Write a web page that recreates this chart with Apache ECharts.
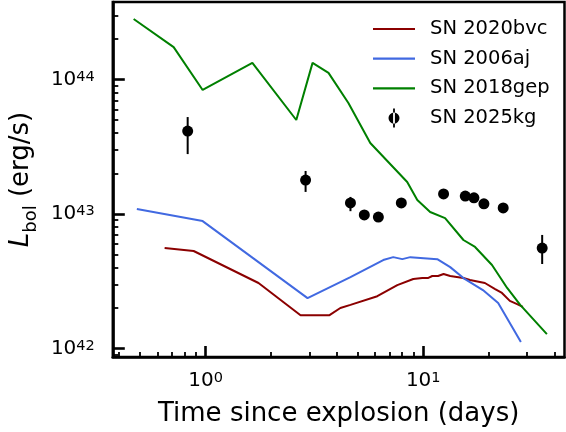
<!DOCTYPE html>
<html><head><meta charset="utf-8">
<script src="https://cdn.jsdelivr.net/npm/echarts@6/dist/echarts.min.js"></script>
<style>html,body{margin:0;padding:0;background:#fff}#c{width:566px;height:432px}</style>
</head><body><div id="c"></div><script>
// SN 2020bvc
const bvcT = [0.648, 0.881, 1.75, 2.73, 3.71, 4.16, 4.63, 6.15, 7.60, 9.0, 9.9, 10.5, 11.0, 11.7, 12.4, 13.3, 15.3, 16.4, 19.2, 21.4, 23.0, 25.0, 27.0, 28.7];
const bvcL = [5.59e42, 5.31e42, 3.07e42, 1.77e42, 1.77e42, 2.00e42, 2.11e42, 2.45e42, 2.96e42, 3.29e42, 3.34e42, 3.34e42, 3.46e42, 3.46e42, 3.58e42, 3.46e42, 3.34e42, 3.23e42, 3.07e42, 2.77e42, 2.59e42, 2.26e42, 2.14e42, 2.04e42];
// SN 2006aj
const ajT = [0.483, 0.969, 2.94, 4.63, 6.55, 7.28, 8.01, 8.72, 11.6, 13.3, 15.3, 18.8, 22.1, 28.1];
const ajL = [1.09e43, 8.86e42, 2.37e42, 3.40e42, 4.55e42, 4.78e42, 4.62e42, 4.78e42, 4.62e42, 4.03e42, 3.34e42, 2.72e42, 2.18e42, 1.12e42];
// SN 2018gep
const gepT = [0.467, 0.713, 0.969, 1.64, 2.61, 3.10, 3.67, 4.53, 5.71, 8.44, 9.39, 10.76, 12.6, 15.3, 17.3, 20.7, 24.3, 27.9, 37.0];
const gepL = [2.82e44, 1.74e44, 8.36e43, 1.33e44, 5.0e43, 1.33e44, 1.12e44, 6.69e43, 3.37e43, 1.73e43, 1.27e43, 1.035e43, 9.33e42, 6.41e42, 5.69e42, 4.18e42, 2.82e42, 2.11e42, 1.28e42];
// SN 2025kg
const kgT  = [0.827, 2.88, 4.63, 5.36, 6.22, 7.93, 12.4, 15.6, 17.1, 19.0, 23.3, 35.2];
const kgL  = [4.14e43, 1.79e43, 1.21e43, 9.84e42, 9.5e42, 1.21e43, 1.41e43, 1.36e43, 1.32e43, 1.19e43, 1.11e43, 5.58e42];
const kgLo = [2.79e43, 1.46e43, 1.05e43, 9.2e42, 8.9e42, 1.13e43, 1.33e43, 1.28e43, 1.24e43, 1.12e43, 1.04e43, 4.25e42];
const kgHi = [5.26e43, 2.09e43, 1.34e43, 1.05e43, 1.01e43, 1.29e43, 1.49e43, 1.44e43, 1.40e43, 1.26e43, 1.18e43, 6.99e42];
// axes
const xMin = 0.3745, xMax = 44.58;
const yMin = 8.65e41, yMax = 3.77e44;
const xMajor = [1, 10];
const xMinor = [0.4, 0.5, 0.6, 0.7, 0.8, 0.9, 2, 3, 4, 5, 6, 7, 8, 9, 20, 30, 40];
const yMajor = [1e42, 1e43, 1e44];
const yMinor = [9e41, 2e42, 3e42, 4e42, 5e42, 6e42, 7e42, 8e42, 9e42, 2e43, 3e43, 4e43, 5e43, 6e43, 7e43, 8e43, 9e43, 2e44, 3e44];

const FF = 'DejaVu Sans';
const pair = (a, b) => a.map((v, i) => [v, b[i]]);
const supFmt = v => '{b|10}{s|' + Math.round(Math.log10(v)) + '}';
const supRich = {
  b: {fontFamily: FF, fontSize: 20, color: '#000'},
  s: {fontFamily: FF, fontSize: 14.5, color: '#000', verticalAlign: 'top'}
};
const lineIcon = 'path://M0,0H42V2.2H0Z';
const kgIcon = 'path://M4.6,0H6.4V19H4.6Z M0,9.5A5.5,5.5 0 1,0 11,9.5A5.5,5.5 0 1,0 0,9.5Z';

const chart = echarts.init(document.getElementById('c'), null, {renderer: 'canvas'});
chart.setOption({
  animation: false,
  backgroundColor: '#fff',
  grid: {left: 112, right: 1.5, top: 2, bottom: 75, show: true, borderColor: '#000', borderWidth: 2.5, backgroundColor: 'transparent'},
  legend: {
    orient: 'vertical', left: 373, top: 19, padding: 0, itemWidth: 42, itemHeight: 19, itemGap: 9.7,
    selectedMode: false, itemStyle: {borderWidth: 0, opacity: 1},
    textStyle: {fontFamily: FF, fontSize: 19.5, color: '#000', padding: [0, 0, 0, 10]},
    data: [
      {name: 'SN 2020bvc', icon: lineIcon},
      {name: 'SN 2006aj', icon: lineIcon},
      {name: 'SN 2018gep', icon: lineIcon},
      {name: 'SN 2025kg', icon: kgIcon}
    ]
  },
  xAxis: [{
    type: 'log', logBase: 10, min: xMin, max: xMax,
    name: 'Time since explosion (days)', nameLocation: 'middle', nameGap: 44,
    nameTextStyle: {fontFamily: FF, fontSize: 26, color: '#000'},
    axisLine: {lineStyle: {color: '#000', width: 2.7}},
    axisTick: {inside: true, length: 11, customValues: xMajor, lineStyle: {color: '#000', width: 2.6}},
    axisLabel: {margin: 14, customValues: xMajor, formatter: supFmt, rich: supRich},
    splitLine: {show: false}, minorTick: {show: false}
  }, {
    type: 'log', logBase: 10, min: xMin, max: xMax, position: 'bottom',
    axisLine: {show: false},
    axisTick: {inside: true, length: 5, customValues: xMinor, lineStyle: {color: '#000', width: 1.8}},
    axisLabel: {show: false}, splitLine: {show: false}
  }],
  yAxis: [{
    type: 'log', logBase: 10, min: yMin, max: yMax,
    name: '{i|L}{sub|bol} (erg/s)', nameLocation: 'middle', nameGap: 72, nameRotate: 90,
    nameTextStyle: {fontFamily: FF, fontSize: 26, color: '#000', rich: {
      i: {fontFamily: FF, fontSize: 26, fontStyle: 'italic', color: '#000'},
      sub: {fontFamily: FF, fontSize: 18, color: '#000', verticalAlign: 'bottom', padding: [0, 0, -6, 0]}
    }},
    axisLine: {lineStyle: {color: '#000', width: 2.7}},
    axisTick: {inside: true, length: 12, customValues: yMajor, lineStyle: {color: '#000', width: 2.6}},
    axisLabel: {margin: 18, customValues: yMajor, formatter: supFmt, rich: supRich},
    splitLine: {show: false}, minorTick: {show: false}
  }, {
    type: 'log', logBase: 10, min: yMin, max: yMax, position: 'left',
    axisLine: {show: false},
    axisTick: {inside: true, length: 5.5, customValues: yMinor, lineStyle: {color: '#000', width: 1.8}},
    axisLabel: {show: false}, splitLine: {show: false}
  }],
  series: [
    {name: 'SN 2020bvc', type: 'line', data: pair(bvcT, bvcL), showSymbol: false, symbol: 'none', color: '#8b0000', lineStyle: {width: 2, color: '#8b0000'}},
    {name: 'SN 2006aj', type: 'line', data: pair(ajT, ajL), showSymbol: false, symbol: 'none', color: '#4169e1', lineStyle: {width: 2, color: '#4169e1'}},
    {name: 'SN 2018gep', type: 'line', data: pair(gepT, gepL), showSymbol: false, symbol: 'none', color: '#008000', lineStyle: {width: 2, color: '#008000'}},
    {name: 'kgErr', type: 'custom', data: kgT.map((t, i) => [t, kgLo[i], kgHi[i]]),
      encode: {x: 0, y: [1, 2]},
      renderItem: function (params, api) {
        const p1 = api.coord([api.value(0), api.value(1)]);
        const p2 = api.coord([api.value(0), api.value(2)]);
        return {type: 'line', shape: {x1: p1[0], y1: p1[1], x2: p2[0], y2: p2[1]}, style: {stroke: '#000', lineWidth: 2}};
      }},
    {name: 'SN 2025kg', type: 'scatter', data: pair(kgT, kgL), symbol: 'circle', symbolSize: 11, color: '#000', itemStyle: {color: '#000', opacity: 1}}
  ]
});
</script></body></html>
